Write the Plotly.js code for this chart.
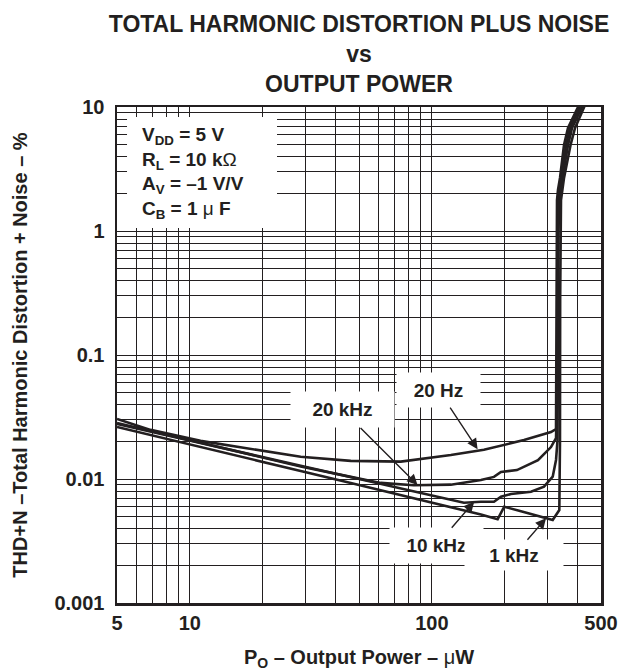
<!DOCTYPE html>
<html>
<head>
<meta charset="utf-8">
<script src="https://cdn.plot.ly/plotly-3.0.1.min.js"></script>
<style>html,body{margin:0;padding:0;background:#fff;}#chart{width:633px;height:671px;}</style>
</head>
<body>
<div id="chart"></div>
<script>
// ---- data (Output power in µW, THD+N in %) ----
const power20Hz = [5, 6.88, 11.07, 17.83, 28.71, 46.23, 74.41, 119.8, 164.1, 240.3, 310.7, 325.9, 326.5, 327.5, 329.0, 332.1, 338.5, 351.7, 365.3, 401.9, 411];
const thd20Hz   = [0.0305, 0.0249, 0.0203, 0.0175, 0.0151, 0.0140, 0.0138, 0.0156, 0.0172, 0.0206, 0.0239, 0.0253, 0.1, 1.0, 1.78, 2.14, 2.68, 4.94, 6.77, 10, 11];

const power20kHz = [5, 6.88, 11.07, 17.83, 28.71, 46.23, 61.5, 84.2, 119.8, 159.5, 180.6, 193.0, 224.7, 274.5, 310.7, 325.9, 330, 331, 333.7, 343.4, 358.4, 372.4, 409.6, 418];
const thd20kHz   = [0.0283, 0.0244, 0.0195, 0.0156, 0.0126, 0.0104, 0.0093, 0.0089, 0.0090, 0.0098, 0.0104, 0.0114, 0.0118, 0.0142, 0.0181, 0.0214, 0.05, 0.5, 1.78, 2.68, 4.94, 6.77, 10, 11];

const power10kHz = [5, 6.88, 11.07, 17.83, 28.71, 46.23, 74.41, 119.8, 135.7, 159.5, 180.6, 193.0, 212.3, 256.8, 290.7, 315.8, 325.9, 330.6, 332.5, 333.5, 336.9, 346.6, 365.3, 379.6, 417.5, 426];
const thd10kHz   = [0.0278, 0.0242, 0.0196, 0.0158, 0.0128, 0.0104, 0.0084, 0.0068, 0.00644, 0.00656, 0.00656, 0.0072, 0.00757, 0.0079, 0.00867, 0.01043, 0.01424, 0.0206, 0.1, 1.0, 1.78, 2.68, 4.94, 6.77, 10, 11];

const power1kHz = [5, 6.88, 11.07, 17.83, 28.71, 46.23, 74.41, 119.8, 135.7, 159.5, 187, 199.1, 256.8, 315.8, 336.3, 338.5, 339, 339.5, 341.7, 351.7, 374.2, 390.6, 425.6, 435];
const thd1kHz   = [0.0263, 0.0227, 0.0182, 0.0145, 0.0116, 0.0093, 0.00744, 0.00596, 0.0056, 0.00517, 0.00473, 0.00598, 0.00522, 0.00467, 0.00562, 0.0206, 0.278, 1.0, 1.78, 2.68, 4.94, 6.77, 10, 11];

// tick / grid values and labels
const xTickVals = [5, 6, 7, 8, 9, 10, 20, 30, 40, 50, 60, 70, 80, 90, 100, 200, 300, 400, 500];
const xTickText = ['5', '', '', '', '', '10', '', '', '', '', '', '', '', '', '100', '', '', '', '500'];
const yTickVals = [0.001, 0.002, 0.003, 0.004, 0.005, 0.006, 0.007, 0.008, 0.009,
                   0.01, 0.02, 0.03, 0.04, 0.05, 0.06, 0.07, 0.08, 0.09,
                   0.1, 0.2, 0.3, 0.4, 0.5, 0.6, 0.7, 0.8, 0.9,
                   1, 2, 3, 4, 5, 6, 7, 8, 9, 10];
const yTickText = ['0.001', '', '', '', '', '', '', '', '',
                   '0.01', '', '', '', '', '', '', '', '',
                   '0.1', '', '', '', '', '', '', '', '',
                   '1', '', '', '', '', '', '', '', '', '10'];

// curve labels: [text, arrow-tip power, arrow-tip THD]
const curveLabels = ['20 Hz', '20 kHz', '10 kHz', '1 kHz'];
const labelTipPower = [154.5, 87.3, 149.6, 296.4];
const labelTipThd = [0.0174, 0.00895, 0.00656, 0.00482];

const INK = '#231f20';
const FAMILY = '"Liberation Sans", Arial, Helvetica, sans-serif';

function curve(x, y, name) {
  return { x: x, y: y, name: name, type: 'scatter', mode: 'lines',
           line: { color: INK, width: 2.6 }, hoverinfo: 'x+y+name' };
}

const traces = [
  curve(power20Hz, thd20Hz, '20 Hz'),
  curve(power20kHz, thd20kHz, '20 kHz'),
  curve(power10kHz, thd10kHz, '10 kHz'),
  curve(power1kHz, thd1kHz, '1 kHz')
];

// label placement (pixel offsets from arrow tip to label centre, box sizes)
const labelAx = [-39, -75, -38, -32];
const labelAy = [-59, -75, 44, 37];
const labelW = [75, 95, 85, 90];
const labelH = [26, 27, 27, 22];

const annotations = curveLabels.map((t, i) => ({
  text: t, x: Math.log10(labelTipPower[i]), y: Math.log10(labelTipThd[i]),
  xref: 'x', yref: 'y', showarrow: true, ax: labelAx[i], ay: labelAy[i],
  arrowhead: 2, arrowsize: 1.5, arrowwidth: 1.4, arrowcolor: INK,
  bgcolor: '#ffffff', borderpad: 4, width: labelW[i], height: labelH[i],
  font: { family: FAMILY, size: 19, color: INK, weight: 'bold' }
}));

annotations.push({
  text: 'V<sub>DD</sub> = 5 V<br>R<sub>L</sub> = 10 k<span style="font-weight:normal">Ω</span><br>A<sub>V</sub> = –1 V/V<br>C<sub>B</sub> = 1 <span style="font-weight:normal">μ</span> F',
  xref: 'paper', yref: 'paper', x: 0.047, y: 0.866, xanchor: 'left', yanchor: 'middle',
  align: 'left', showarrow: false,
  font: { family: FAMILY, size: 19, color: INK, weight: 'bold' }
});

const axisCommon = {
  type: 'log', tickmode: 'array', showgrid: true, gridcolor: INK, gridwidth: 1,
  showline: true, mirror: true, linecolor: INK, linewidth: 2.5, ticks: '',
  zeroline: false, fixedrange: true,
  tickfont: { family: FAMILY, size: 20, color: INK, weight: 'bold' }
};

const layout = {
  width: 633, height: 671,
  margin: { l: 117, r: 32, t: 107, b: 68, autoexpand: false },
  paper_bgcolor: '#ffffff', plot_bgcolor: '#ffffff',
  showlegend: false,
  font: { family: FAMILY, color: INK },
  title: {
    text: 'TOTAL HARMONIC DISTORTION PLUS NOISE<br>vs<br>OUTPUT POWER',
    font: { family: FAMILY, size: 23, color: INK, weight: 'bold' },
    xref: 'paper', x: 0.5, xanchor: 'center',
    yref: 'container', y: 0.952, yanchor: 'top'
  },
  xaxis: Object.assign({}, axisCommon, {
    range: [Math.log10(5), Math.log10(500)],
    tickvals: xTickVals, ticktext: xTickText,
    ticklabelstandoff: 0,
    title: { text: 'P<sub>O</sub> – Output Power – <span style="font-weight:normal">μ</span>W',
             font: { family: FAMILY, size: 20, color: INK, weight: 'bold' }, standoff: 22 }
  }),
  yaxis: Object.assign({}, axisCommon, {
    range: [-3, 1],
    tickvals: yTickVals, ticktext: yTickText,
    ticklabelstandoff: 6,
    title: { text: 'THD+N –Total Harmonic Distortion + Noise – %',
             font: { family: FAMILY, size: 20, color: INK, weight: 'bold' }, standoff: 22 }
  }),
  shapes: [{
    type: 'rect', xref: 'paper', yref: 'paper', x0: 0.0207, x1: 0.3306, y0: 0.756, y1: 0.98,
    fillcolor: '#ffffff', line: { width: 0 }, layer: 'above'
  }],
  annotations: annotations
};

Plotly.newPlot('chart', traces, layout, { staticPlot: true, displayModeBar: false });
</script>
</body>
</html>
